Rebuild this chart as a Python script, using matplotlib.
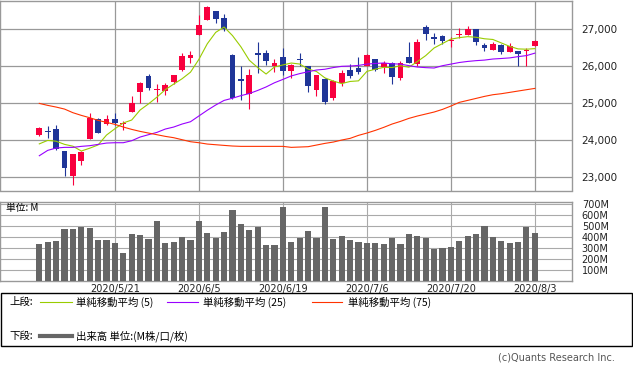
import matplotlib.pyplot as plt
from matplotlib.patches import Rectangle
from matplotlib.lines import Line2D
from matplotlib.ticker import FuncFormatter
import numpy as np

plt.rcParams['font.family'] = ['DejaVu Sans', 'Noto Sans CJK JP']

# data
dates = ["2020/5/8", "2020/5/11", "2020/5/12", "2020/5/13", "2020/5/14", "2020/5/15",
         "2020/5/18", "2020/5/19", "2020/5/20", "2020/5/21", "2020/5/22", "2020/5/26",
         "2020/5/27", "2020/5/28", "2020/5/29", "2020/6/1", "2020/6/2", "2020/6/3",
         "2020/6/4", "2020/6/5", "2020/6/8", "2020/6/9", "2020/6/10", "2020/6/11",
         "2020/6/12", "2020/6/15", "2020/6/16", "2020/6/17", "2020/6/18", "2020/6/19",
         "2020/6/22", "2020/6/23", "2020/6/24", "2020/6/25", "2020/6/26", "2020/6/29",
         "2020/6/30", "2020/7/1", "2020/7/2", "2020/7/6", "2020/7/7", "2020/7/8",
         "2020/7/9", "2020/7/10", "2020/7/13", "2020/7/14", "2020/7/15", "2020/7/16",
         "2020/7/17", "2020/7/20", "2020/7/21", "2020/7/22", "2020/7/23", "2020/7/24",
         "2020/7/27", "2020/7/28", "2020/7/29", "2020/7/30", "2020/7/31", "2020/8/3"]
opens = [24130, 24240, 24290, 23700, 23040, 23440, 24030, 24580, 24440, 24560,
         24440, 24750, 25290, 25720, 25340, 25320, 25560, 25880, 26200, 26830,
         27230, 27466, 27280, 26280, 25660, 25240, 26345, 26340, 26010, 26230,
         25860, 26170, 26000, 25350, 25660, 25130, 25530, 25880, 25950, 26000,
         26175, 25970, 26090, 25672, 26240, 26050, 27036, 26760, 26794, 26670,
         26820, 26830, 26980, 26552, 26440, 26560, 26380, 26390, 26390, 26534]
highs = [24350, 24370, 24400, 23700, 23625, 23700, 24720, 24610, 24670, 24720,
         24520, 25180, 25556, 25770, 25500, 25540, 25750, 26360, 26390, 27360,
         27600, 27466, 27390, 26310, 26000, 25906, 26640, 26430, 26180, 26470,
         26050, 26350, 26000, 25760, 25670, 25610, 25900, 26040, 26230, 26309,
         26180, 26120, 26100, 26120, 26650, 26713, 27100, 26890, 26830, 26780,
         27030, 27063, 26990, 26620, 26630, 26600, 26620, 26390, 26470, 26686]
lows = [24100, 24070, 23740, 23035, 22790, 23330, 24030, 24190, 24420, 24400,
        24280, 24750, 25000, 25340, 25030, 25210, 25520, 25870, 26080, 26830,
        27230, 27150, 26940, 25100, 25080, 24830, 25810, 26030, 25830, 25745,
        25670, 26010, 25300, 25190, 24980, 25080, 25460, 25680, 25790, 25995,
        25860, 25800, 25520, 25630, 26080, 25990, 26700, 26590, 26600, 26510,
        26750, 26830, 26560, 26390, 26420, 26330, 26370, 25990, 25990, 26534]
closes = [24331, 24222, 23765, 23248, 23625, 23685, 24597, 24207, 24576, 24474,
          24465, 24995, 25548, 25401, 25383, 25475, 25743, 26270, 26282, 27111,
          27572, 27272, 26990, 25128, 25605, 25763, 26290, 26120, 26080, 25871,
          26025, 26156, 25446, 25746, 25016, 25596, 25813, 25735, 25827, 26287,
          25890, 26067, 25706, 26075, 26086, 26643, 26870, 26735, 26672, 26681,
          26840, 27006, 26652, 26470, 26585, 26379, 26540, 26314, 26428, 26664]
ma5 = [23901, 23995, 23972, 23888, 23838, 23709, 23784, 23873, 24138, 24308,
       24464, 24543, 24812, 24977, 25159, 25360, 25510, 25654, 25831, 26176,
       26596, 26902, 27046, 26815, 26514, 26152, 25955, 25781, 25972, 26025,
       26077, 26050, 25916, 25849, 25678, 25592, 25523, 25581, 25597, 25852,
       25911, 25961, 25956, 26005, 25965, 26115, 26276, 26482, 26601, 26720,
       26760, 26787, 26770, 26730, 26711, 26618, 26525, 26457, 26449, 26465]
ma25 = [23582, 23726, 23789, 23807, 23807, 23834, 23852, 23887, 23923, 23932,
        23932, 23986, 24085, 24148, 24210, 24300, 24354, 24435, 24497, 24652,
        24806, 24947, 25071, 25130, 25199, 25256, 25339, 25433, 25546, 25636,
        25730, 25792, 25842, 25889, 25910, 25955, 25988, 25996, 26013, 26049,
        26065, 26078, 26056, 26048, 26007, 25969, 25953, 25943, 26005, 26048,
        26091, 26120, 26141, 26156, 26185, 26199, 26215, 26249, 26277, 26343]
ma75 = [24991, 24937, 24892, 24838, 24740, 24668, 24605, 24533, 24480, 24426,
        24354, 24291, 24237, 24192, 24148, 24103, 24067, 24013, 23959, 23932,
        23896, 23878, 23860, 23843, 23834, 23834, 23834, 23834, 23834, 23834,
        23807, 23816, 23825, 23869, 23914, 23950, 24004, 24049, 24130, 24192,
        24264, 24345, 24435, 24506, 24587, 24650, 24704, 24758, 24829, 24919,
        25018, 25071, 25125, 25179, 25224, 25251, 25287, 25323, 25359, 25394]
volume = [333, 351, 360, 468, 468, 486, 477, 369, 369, 342,
          252, 423, 414, 378, 540, 342, 351, 396, 369, 540,
          432, 387, 441, 640, 513, 459, 486, 324, 324, 667,
          351, 387, 450, 387, 667, 378, 405, 369, 351, 342,
          342, 333, 387, 333, 423, 405, 387, 288, 297, 306,
          360, 405, 423, 495, 396, 360, 342, 351, 486, 432]
price_ticks = [23000, 24000, 25000, 26000, 27000]
vol_ticks = [100, 200, 300, 400, 500, 600, 700]

RED = "#f8003e"
BLUE = "#1f3598"
GRID = "#999999"

W, H = 633, 374
fig = plt.figure(figsize=(W / 100, H / 100), dpi=100)


def px(x0, y0, x1, y1):
    return [x0 / W, 1 - y1 / H, (x1 - x0) / W, (y1 - y0) / H]


x = np.arange(len(closes))
o = np.array(opens)
c = np.array(closes)
colors = [RED if cc >= oo else BLUE for oo, cc in zip(o, c)]
tick_idx = x[9::10]

# price panel
ax = fig.add_axes(px(0, 0.5, 572, 190.5))
ax.set_xlim(-4.68, 63.42)
ax.set_ylim(22646, 27760)
ax.set_axisbelow(True)
ax.vlines(x, lows, highs, color=colors, lw=0.8, zorder=2)
body = np.maximum(np.abs(c - o), 30)
ax.bar(x, body, bottom=np.minimum(o, c), width=0.7, color=colors, zorder=3)
ax.plot(x, ma5, color="#99cc00", lw=0.8, zorder=4)
ax.plot(x, ma25, color="#9900ff", lw=0.8, zorder=4)
ax.plot(x, ma75, color="#ff3300", lw=0.8, zorder=4)
ax.set_yticks(price_ticks)
ax.set_xticks(tick_idx)
ax.grid(True, color=GRID, lw=0.9)
ax.yaxis.tick_right()
ax.yaxis.set_major_formatter(FuncFormatter(lambda v, p: "{:,.0f}".format(v)))
ax.tick_params(axis="y", length=0, pad=7, labelsize=7.5, labelcolor="#222222")
ax.tick_params(axis="x", length=0, labelbottom=False)
for s in ax.spines.values():
    s.set_color(GRID)
    s.set_linewidth(1)

# volume panel
axv = fig.add_axes(px(0, 201.5, 572, 281))
axv.set_xlim(-4.68, 63.42)
axv.set_ylim(0, 720)
axv.set_axisbelow(True)
axv.bar(x, volume, width=0.72, color="#666666", zorder=3)
axv.set_yticks(vol_ticks)
axv.set_yticklabels(["{}M".format(v) for v in vol_ticks])
axv.set_xticks(tick_idx)
axv.set_xticklabels([dates[i] for i in tick_idx])
axv.grid(True, color="#aaaaaa", lw=0.8)
axv.yaxis.tick_right()
axv.tick_params(axis="y", length=0, pad=7, labelsize=7, labelcolor="#222222")
axv.tick_params(axis="x", length=0, pad=2, labelsize=7, labelcolor="#222222")
for s in axv.spines.values():
    s.set_color(GRID)
    s.set_linewidth(1)
fig.text(6 / W, 1 - 208 / H, "単位: M", ha="left", va="center", fontsize=7,
         family=["Noto Sans CJK JP", "DejaVu Sans"])

# legend box
fig.patches.append(Rectangle((0.5 / W, 1 - 346 / H), 631 / W, 53 / H, transform=fig.transFigure,
                             fill=False, edgecolor="black", lw=1))
jp = ["Noto Sans CJK JP", "DejaVu Sans"]
row1 = 1 - 302 / H
row2 = 1 - 336 / H
fig.text(9 / W, row1, "上段:", ha="left", va="center", fontsize=7.5, family=jp)
fig.text(9 / W, row2, "下段:", ha="left", va="center", fontsize=7.5, family=jp)
items = [(40, 72, 76, "#99cc00", "単純移動平均 (5)"),
         (167, 198, 203, "#9900ff", "単純移動平均 (25)"),
         (312, 342, 348, "#ff3300", "単純移動平均 (75)")]
for x0, x1, xt, col, lab in items:
    fig.add_artist(Line2D([x0 / W, x1 / W], [row1, row1], transform=fig.transFigure, color=col, lw=0.8))
    fig.text(xt / W, row1, lab, ha="left", va="center", fontsize=7.5, family=jp)
fig.add_artist(Line2D([40 / W, 72 / W], [row2, row2], transform=fig.transFigure, color="#666666", lw=3))
fig.text(76 / W, row2, "出来高 単位:(M株/口/枚)", ha="left", va="center", fontsize=7.5, family=jp)

fig.text(615 / W, 1 - 357 / H, "(c)Quants Research Inc.", ha="right", va="center",
         fontsize=7, color="#555555")

fig.savefig("out.png", dpi=100)
